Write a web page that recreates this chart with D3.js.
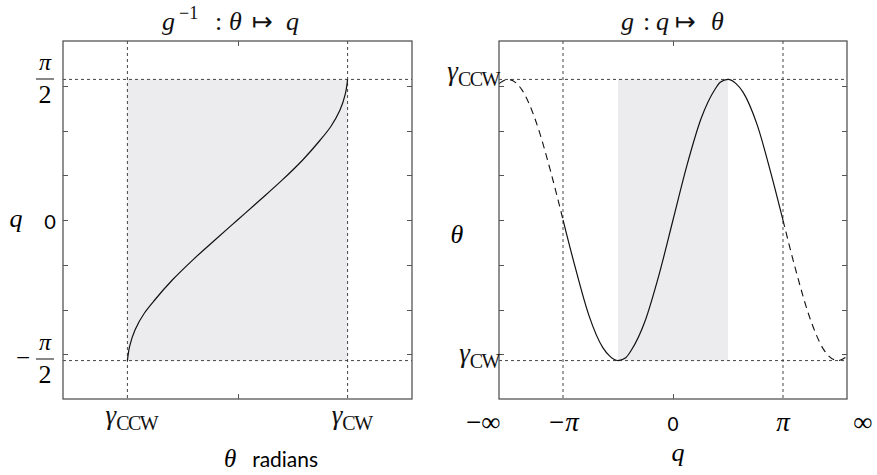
<!DOCTYPE html>
<html>
<head>
<meta charset="utf-8">
<script src="https://cdn.jsdelivr.net/npm/d3@7/dist/d3.min.js"></script>
<style>
  body { margin: 0; background: #fff; }
  svg { display: block; }
</style>
</head>
<body>
<svg id="chart" width="877" height="475"></svg>
<script>
// values (gamma normalised to +-1)
var PI = Math.PI;
var SERIF = "'Liberation Serif', 'Times New Roman', serif";
var SANS = "Lato, 'Open Sans', sans-serif";

// left panel: q = g^-1(theta)
var invTheta = [-1.0, -0.98, -0.93, -0.845, -0.75, -0.59, -0.405, -0.205, 0, 0.205, 0.405, 0.59, 0.75, 0.845, 0.93, 0.98, 1.0];
var invQ = [-1.5708, -1.411, -1.225, -1.039, -0.891, -0.668, -0.445, -0.223, 0, 0.223, 0.445, 0.668, 0.891, 1.039, 1.225, 1.411, 1.5708];

// right panel: theta = g(q), solid on [-pi, pi], dashed outside
var solidQ = [-3.14, -2.8, -2.4, -2.0, -1.8, -1.57, -1.35, -1.2, -0.8, -0.4, 0, 0.4, 0.8, 1.2, 1.35, 1.57, 1.8, 2.0, 2.4, 2.8, 3.14];
var solidTheta = [0, 0.33, 0.68, 0.91, 0.97, 1.0, 0.98, 0.93, 0.72, 0.39, 0, -0.39, -0.72, -0.93, -0.98, -1.0, -0.97, -0.91, -0.68, -0.33, 0];
var dashLeftQ = [-4.97, -4.71, -4.3, -3.9, -3.5, -3.14];
var dashLeftTheta = [-0.97, -1.0, -0.92, -0.69, -0.35, 0];
var dashRightQ = [3.14, 3.5, 3.9, 4.3, 4.71, 4.97];
var dashRightTheta = [0, 0.35, 0.69, 0.92, 1.0, 0.97];

var gammaCCW = -1, gammaCW = 1;
var qTicksLeft = [-1.5, -1, -0.5, 0, 0.5, 1, 1.5];
var thetaTicksRight = [-3, -2, -1, 0, 1, 2, 3].map(function (k) { return k / PI; });
var qLabelVals = [-5.42, -PI, 0, PI, 5.42];
var qLabels = ["\u2212\u221E", "\u2212\u03C0", "0", "\u03C0", "\u221E"];

var svg = d3.select("#chart");

var xL = d3.scaleLinear().domain([-1.585, 1.585]).range([63, 412]);
var yL = d3.scaleLinear().domain([-2, 2]).range([399, 41]);
var xR = d3.scaleLinear().domain([-4.97, 4.97]).range([499, 847]);
var yR = d3.scaleLinear().domain([-4 / PI, 4 / PI]).range([41, 399]);

var refStyle = function (sel) {
    sel.attr("stroke", "#444").attr("stroke-width", 1).attr("stroke-dasharray", "3,3").attr("fill", "none");
};

// draws the box and inward ticks of one panel
function drawFrame(g, x, y, xTicks, yTicks) {
    var x0 = x.range()[0], x1 = x.range()[1];
    var y0 = y.range()[0], y1 = y.range()[1];
    var top = Math.min(y0, y1), bot = Math.max(y0, y1);
    var tl = 5;
    g.selectAll(".yt").data(yTicks).enter().append("path")
        .attr("d", function (d) {
            var yy = Math.round(y(d)) + 0.5;
            return "M" + x0 + "," + yy + "h" + tl + "M" + x1 + "," + yy + "h" + (-tl);
        })
        .attr("stroke", "#555").attr("stroke-width", 1);
    g.selectAll(".xt").data(xTicks).enter().append("path")
        .attr("d", function (d) {
            var xx = Math.round(x(d)) + 0.5;
            return "M" + xx + "," + top + "v" + tl + "M" + xx + "," + bot + "v" + (-tl);
        })
        .attr("stroke", "#555").attr("stroke-width", 1);
    g.append("rect")
        .attr("x", x0).attr("y", top)
        .attr("width", x1 - x0).attr("height", bot - top)
        .attr("fill", "none").attr("stroke", "#555").attr("stroke-width", 1.3);
}

// ---------- left panel ----------
var gl = svg.append("g");

gl.append("rect")
    .attr("x", xL(gammaCCW)).attr("y", yL(PI / 2))
    .attr("width", xL(gammaCW) - xL(gammaCCW))
    .attr("height", yL(-PI / 2) - yL(PI / 2))
    .attr("fill", "#ececee");

[gammaCCW, gammaCW].forEach(function (t) {
    gl.append("line").attr("x1", xL(t)).attr("x2", xL(t)).attr("y1", 41).attr("y2", 399).call(refStyle);
});
[PI / 2, -PI / 2].forEach(function (q) {
    gl.append("line").attr("x1", 63).attr("x2", 412).attr("y1", yL(q)).attr("y2", yL(q)).call(refStyle);
});

var invPts = invTheta.map(function (t, i) { return [t, invQ[i]]; })
    .sort(function (a, b) { return b[1] - a[1]; });
gl.append("path")
    .datum(invPts)
    .attr("fill", "none").attr("stroke", "#111").attr("stroke-width", 1.2)
    .attr("d", d3.line().x(function (d) { return xL(d[0]); }).y(function (d) { return yL(d[1]); })
        .curve(d3.curveMonotoneY));

drawFrame(gl, xL, yL, [0], qTicksLeft);

// ---------- right panel ----------
var gr = svg.append("g");

gr.append("rect")
    .attr("x", xR(-PI / 2)).attr("y", yR(gammaCCW))
    .attr("width", xR(PI / 2) - xR(-PI / 2))
    .attr("height", yR(gammaCW) - yR(gammaCCW))
    .attr("fill", "#ececee");

[-PI, PI].forEach(function (q) {
    gr.append("line").attr("x1", xR(q)).attr("x2", xR(q)).attr("y1", 41).attr("y2", 399).call(refStyle);
});
[gammaCCW, gammaCW].forEach(function (t) {
    gr.append("line").attr("x1", 499).attr("x2", 847).attr("y1", yR(t)).attr("y2", yR(t)).call(refStyle);
});

var lineR = d3.line().x(function (d) { return xR(d[0]); }).y(function (d) { return yR(d[1]); })
    .curve(d3.curveMonotoneX);
function pts(qs, ts) { return qs.map(function (q, i) { return [q, ts[i]]; }); }

gr.append("path").datum(pts(solidQ, solidTheta))
    .attr("fill", "none").attr("stroke", "#111").attr("stroke-width", 1.2).attr("d", lineR);
[pts(dashLeftQ, dashLeftTheta), pts(dashRightQ, dashRightTheta)].forEach(function (p) {
    gr.append("path").datum(p)
        .attr("fill", "none").attr("stroke", "#111").attr("stroke-width", 1.1)
        .attr("stroke-dasharray", "7,5").attr("d", lineR);
});

drawFrame(gr, xR, yR, [0], thetaTicksRight);

// ---------- text ----------
// each title piece is placed at its own x so the math spacing matches
function title(y, parts) {
    parts.forEach(function (p) {
        svg.append("text").attr("x", p.x).attr("y", y + (p.dy || 0))
            .attr("font-family", p.f || SERIF).attr("font-size", p.s || 26)
            .attr("font-style", p.i ? "italic" : "normal").attr("fill", "#111")
            .text(p.t);
    });
}
var ARROW = "'DejaVu Sans', sans-serif";
title(30, [
    { t: "g", i: 1, x: 162 }, { t: "\u22121", s: 18, dy: -11, x: 179 },
    { t: ":", x: 215 }, { t: "\u03B8", i: 1, x: 229 },
    { t: "\u21A6", x: 252, s: 25, f: ARROW }, { t: "q", i: 1, x: 286 }
]);
title(30, [
    { t: "g", i: 1, x: 621 }, { t: ":", x: 643 }, { t: "q", i: 1, x: 656 },
    { t: "\u21A6", x: 675, s: 25, f: ARROW }, { t: "\u03B8", i: 1, x: 711 }
]);

// fraction pi/2
function piHalf(cx, cy, neg) {
    svg.append("text").attr("font-family", SERIF).attr("x", cx).attr("y", cy - 9)
        .attr("text-anchor", "middle").attr("font-size", 24).attr("font-style", "italic").text("\u03C0");
    svg.append("line").attr("x1", cx - 9).attr("x2", cx + 9).attr("y1", cy).attr("y2", cy)
        .attr("stroke", "#111").attr("stroke-width", 1);
    svg.append("text").attr("font-family", SERIF).attr("x", cx).attr("y", cy + 24)
        .attr("text-anchor", "middle").attr("font-size", 26).text("2");
    if (neg) {
        svg.append("text").attr("font-family", SERIF).attr("x", cx - 22).attr("y", cy + 7)
            .attr("text-anchor", "middle").attr("font-size", 25).text("\u2212");
    }
}
piHalf(45, 79, false);
piHalf(45, 359, true);

svg.append("text").attr("font-family", SANS).attr("x", 50).attr("y", 229)
    .attr("text-anchor", "middle").attr("font-size", 20).text("0");
svg.append("text").attr("font-family", SERIF).attr("x", 16).attr("y", 227)
    .attr("text-anchor", "middle").attr("font-size", 26).attr("font-style", "italic").text("q");

function gammaLabel(x, y, sub, anchor) {
    var t = svg.append("text").attr("font-family", SERIF).attr("x", x).attr("y", y)
        .attr("text-anchor", anchor).attr("fill", "#111");
    t.append("tspan").attr("font-size", 27).attr("font-style", "italic").text("\u03B3");
    t.append("tspan").attr("font-size", 20).attr("dy", 6).attr("letter-spacing", -1.5).text(sub);
}
gammaLabel(xL(gammaCCW) + 4, 424, "CCW", "middle");
gammaLabel(xL(gammaCW) + 4, 424, "CW", "middle");
gammaLabel(499, 80, "CCW", "end");
gammaLabel(499, 362, "CW", "end");

var xlab = svg.append("text").attr("x", 271).attr("y", 467).attr("text-anchor", "middle");
xlab.append("tspan").attr("font-family", SERIF).attr("font-style", "italic").attr("font-size", 25).text("\u03B8");
xlab.append("tspan").attr("font-family", SANS).attr("font-size", 21).attr("dx", 16).text("radians");

svg.append("text").attr("font-family", SERIF).attr("x", 457).attr("y", 243)
    .attr("text-anchor", "middle").attr("font-size", 26).attr("font-style", "italic").text("\u03B8");

svg.selectAll(".ql").data(qLabelVals).enter().append("text")
    .attr("font-family", function (d, i) { return qLabels[i] == "0" ? SANS : SERIF; })
    .attr("x", function (d) { return xR(d); })
    .attr("y", 431)
    .attr("text-anchor", "middle")
    .attr("font-size", function (d, i) { return qLabels[i] == "0" ? 19 : 27; })
    .attr("font-style", function (d, i) { return qLabels[i] == "\u03C0" || qLabels[i] == "\u2212\u03C0" ? "italic" : "normal"; })
    .text(function (d, i) { return qLabels[i]; });

svg.append("text").attr("font-family", SERIF).attr("x", 678).attr("y", 461)
    .attr("text-anchor", "middle").attr("font-size", 26).attr("font-style", "italic").text("q");
</script>
</body>
</html>
